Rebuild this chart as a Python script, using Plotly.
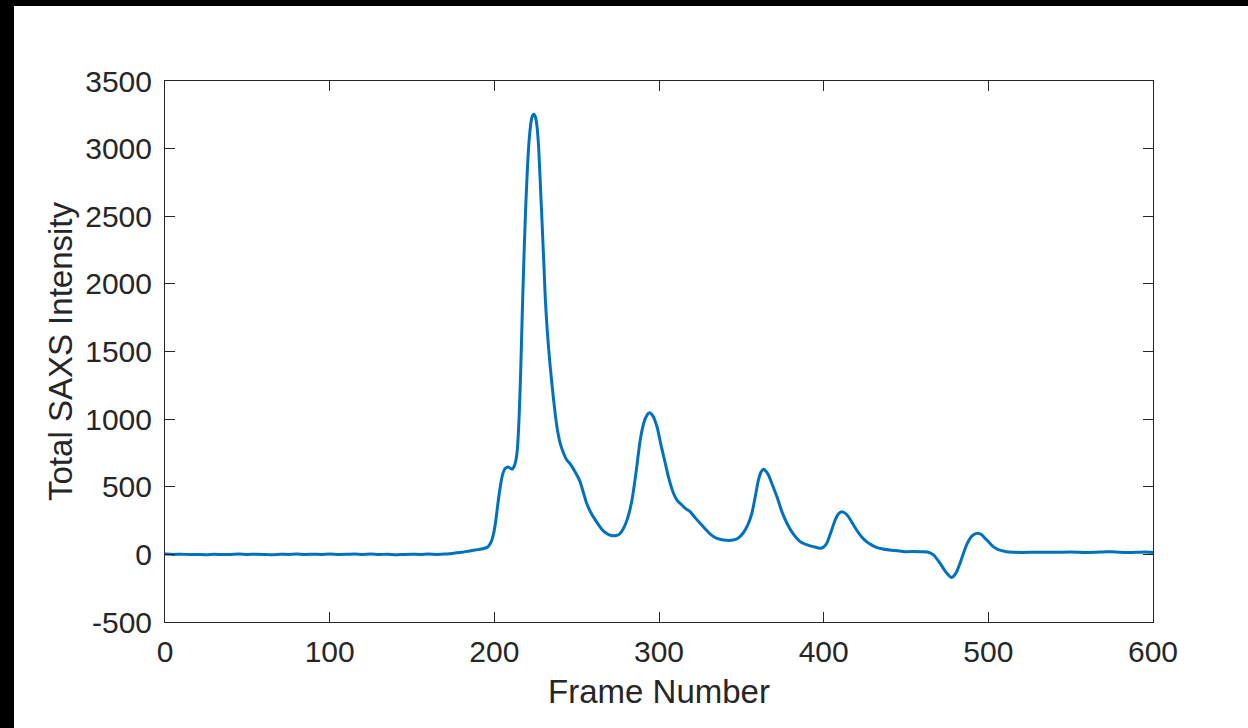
import plotly.graph_objects as go

frames = [0, 5, 10, 15, 20, 25, 30, 35, 40, 45, 50, 55, 60, 65, 70, 75, 80, 85, 90, 95,
          100, 105, 110, 115, 120, 125, 130, 135, 140, 145, 150, 155, 160, 165, 170, 175,
          180, 185, 190, 193, 196, 198, 199.6, 201, 202, 203.6, 205, 206.7, 208.5, 210.7,
          212, 213, 214, 215, 216, 217, 218, 219, 220, 221, 222, 223, 224, 225, 226, 227,
          228, 229, 230, 231, 232, 233, 234, 236, 238, 240, 242, 244, 246, 249, 252, 256,
          259, 262, 265, 268, 271, 273.4, 276, 278.5, 281, 283.6, 286, 288.6, 291, 293,
          294.3, 296, 298.8, 301, 303.8, 306, 308.8, 311, 313.9, 316, 318.9, 322, 325, 328,
          331, 334, 337, 341, 345, 348, 351, 354, 356.4, 358.5, 360.4, 362, 363.5, 365,
          366.5, 369, 371.6, 374.5, 377.7, 381, 385.7, 390, 393.8, 397.9, 400, 401.9, 404,
          407, 409, 411, 413, 415, 417.5, 420, 423, 426, 429, 432, 436, 440, 445, 450, 455,
          460, 463, 466.7, 468.5, 470.7, 473, 474.8, 477.4, 479, 480.8, 483, 484.9, 487,
          488.9, 491, 493.4, 496, 498, 500, 503, 506, 511, 515, 520, 530, 540, 550, 560,
          570, 575, 580, 590, 595, 600]

intensity = [2, 0, 1, -1, 0, -3, 1, -1, 0, 2, -1, 1, 0, -2, 1, 0, 2, -1, 1, 0,
             2, 0, 1, 3, 0, 2, -1, 1, -2, 0, 1, -1, 2, 0, 2, 8,
             15, 25, 35, 42, 55, 90, 156, 260, 360, 500, 590, 637, 646, 629,
             650, 690, 780, 1000, 1350, 1800, 2200, 2550, 2830, 3040, 3170, 3238, 3255, 3232, 3155, 2990,
             2720, 2450, 2170, 1880, 1680, 1520, 1380, 1142, 944, 821, 750, 698, 670, 611, 540, 380,
             300, 242, 190, 156, 140, 138, 150, 193, 270, 402, 600, 846, 980, 1035,
             1048, 1030, 944, 820, 674, 560, 452, 400, 365, 340, 316, 270, 230, 190,
             151, 125, 112, 104, 106, 120, 156, 220, 304, 430, 550, 610, 629, 615,
             587, 510, 427, 320, 230, 160, 94, 70, 57, 45, 55, 82, 150,
             254, 300, 316, 305, 279, 230, 180, 130, 94, 70, 52, 40, 33, 26, 20, 22,
             20, 18, -4, -30, -66, -110, -140, -170, -160, -128, -60, 8, 75,
             119, 145, 156, 145, 119, 95, 57, 35, 20, 16, 14, 16, 15, 17, 14,
             18, 20, 16, 15, 17, 14]

x_ticks = [0, 100, 200, 300, 400, 500, 600]
y_ticks = [-500, 0, 500, 1000, 1500, 2000, 2500, 3000, 3500]
y_tick_text = ["-500", "0", "500", "1000", "1500", "2000", "2500", "3000", "3500"]

W, H = 1248, 728
L, R, T, B = 165, 95, 81, 106
PW, PH = W - L - R, H - T - B

def px_x(p):
    return (p - L) / PW

def px_y(p):  # p measured from top of figure
    return (H - B - p) / PH

fig = go.Figure()
fig.add_trace(go.Scatter(x=frames, y=intensity, mode="lines",
                         line=dict(color="#0072BD", width=3, shape="spline", smoothing=0.6),
                         showlegend=False))

axis_col = "#262626"
font = "Liberation Sans, Arial, Helvetica, sans-serif"

fig.update_layout(
    width=W, height=H,
    margin=dict(l=L, r=R, t=T, b=B, pad=0),
    paper_bgcolor="white", plot_bgcolor="white",
    font=dict(family=font, color=axis_col),
    xaxis=dict(range=[0, 600], tickvals=x_ticks, showgrid=False, zeroline=False,
               showline=True, linecolor=axis_col, linewidth=1, mirror="ticks",
               ticks="inside", ticklen=10, tickcolor=axis_col, tickwidth=1,
               tickfont=dict(size=30, color=axis_col, family=font),
               ticklabelstandoff=3,
               title=dict(text="Frame Number", font=dict(size=33, color=axis_col, family=font),
                          standoff=12)),
    yaxis=dict(range=[-500, 3500], tickvals=y_ticks, ticktext=y_tick_text, showgrid=False,
               zeroline=False, showline=True, linecolor=axis_col, linewidth=1, mirror="ticks",
               ticks="inside", ticklen=10, tickcolor=axis_col, tickwidth=1,
               tickfont=dict(size=30, color=axis_col, family=font),
               ticklabelstandoff=6,
               title=dict(text="Total SAXS Intensity", font=dict(size=33, color=axis_col, family=font),
                          standoff=2)),
    shapes=[
        dict(type="rect", xref="paper", yref="paper", x0=px_x(0), x1=px_x(14),
             y0=px_y(H), y1=px_y(0), fillcolor="black", line=dict(width=0), layer="above"),
        dict(type="rect", xref="paper", yref="paper", x0=px_x(0), x1=px_x(W),
             y0=px_y(6), y1=px_y(0), fillcolor="black", line=dict(width=0), layer="above"),
    ],
)

fig.write_html("out.html")
